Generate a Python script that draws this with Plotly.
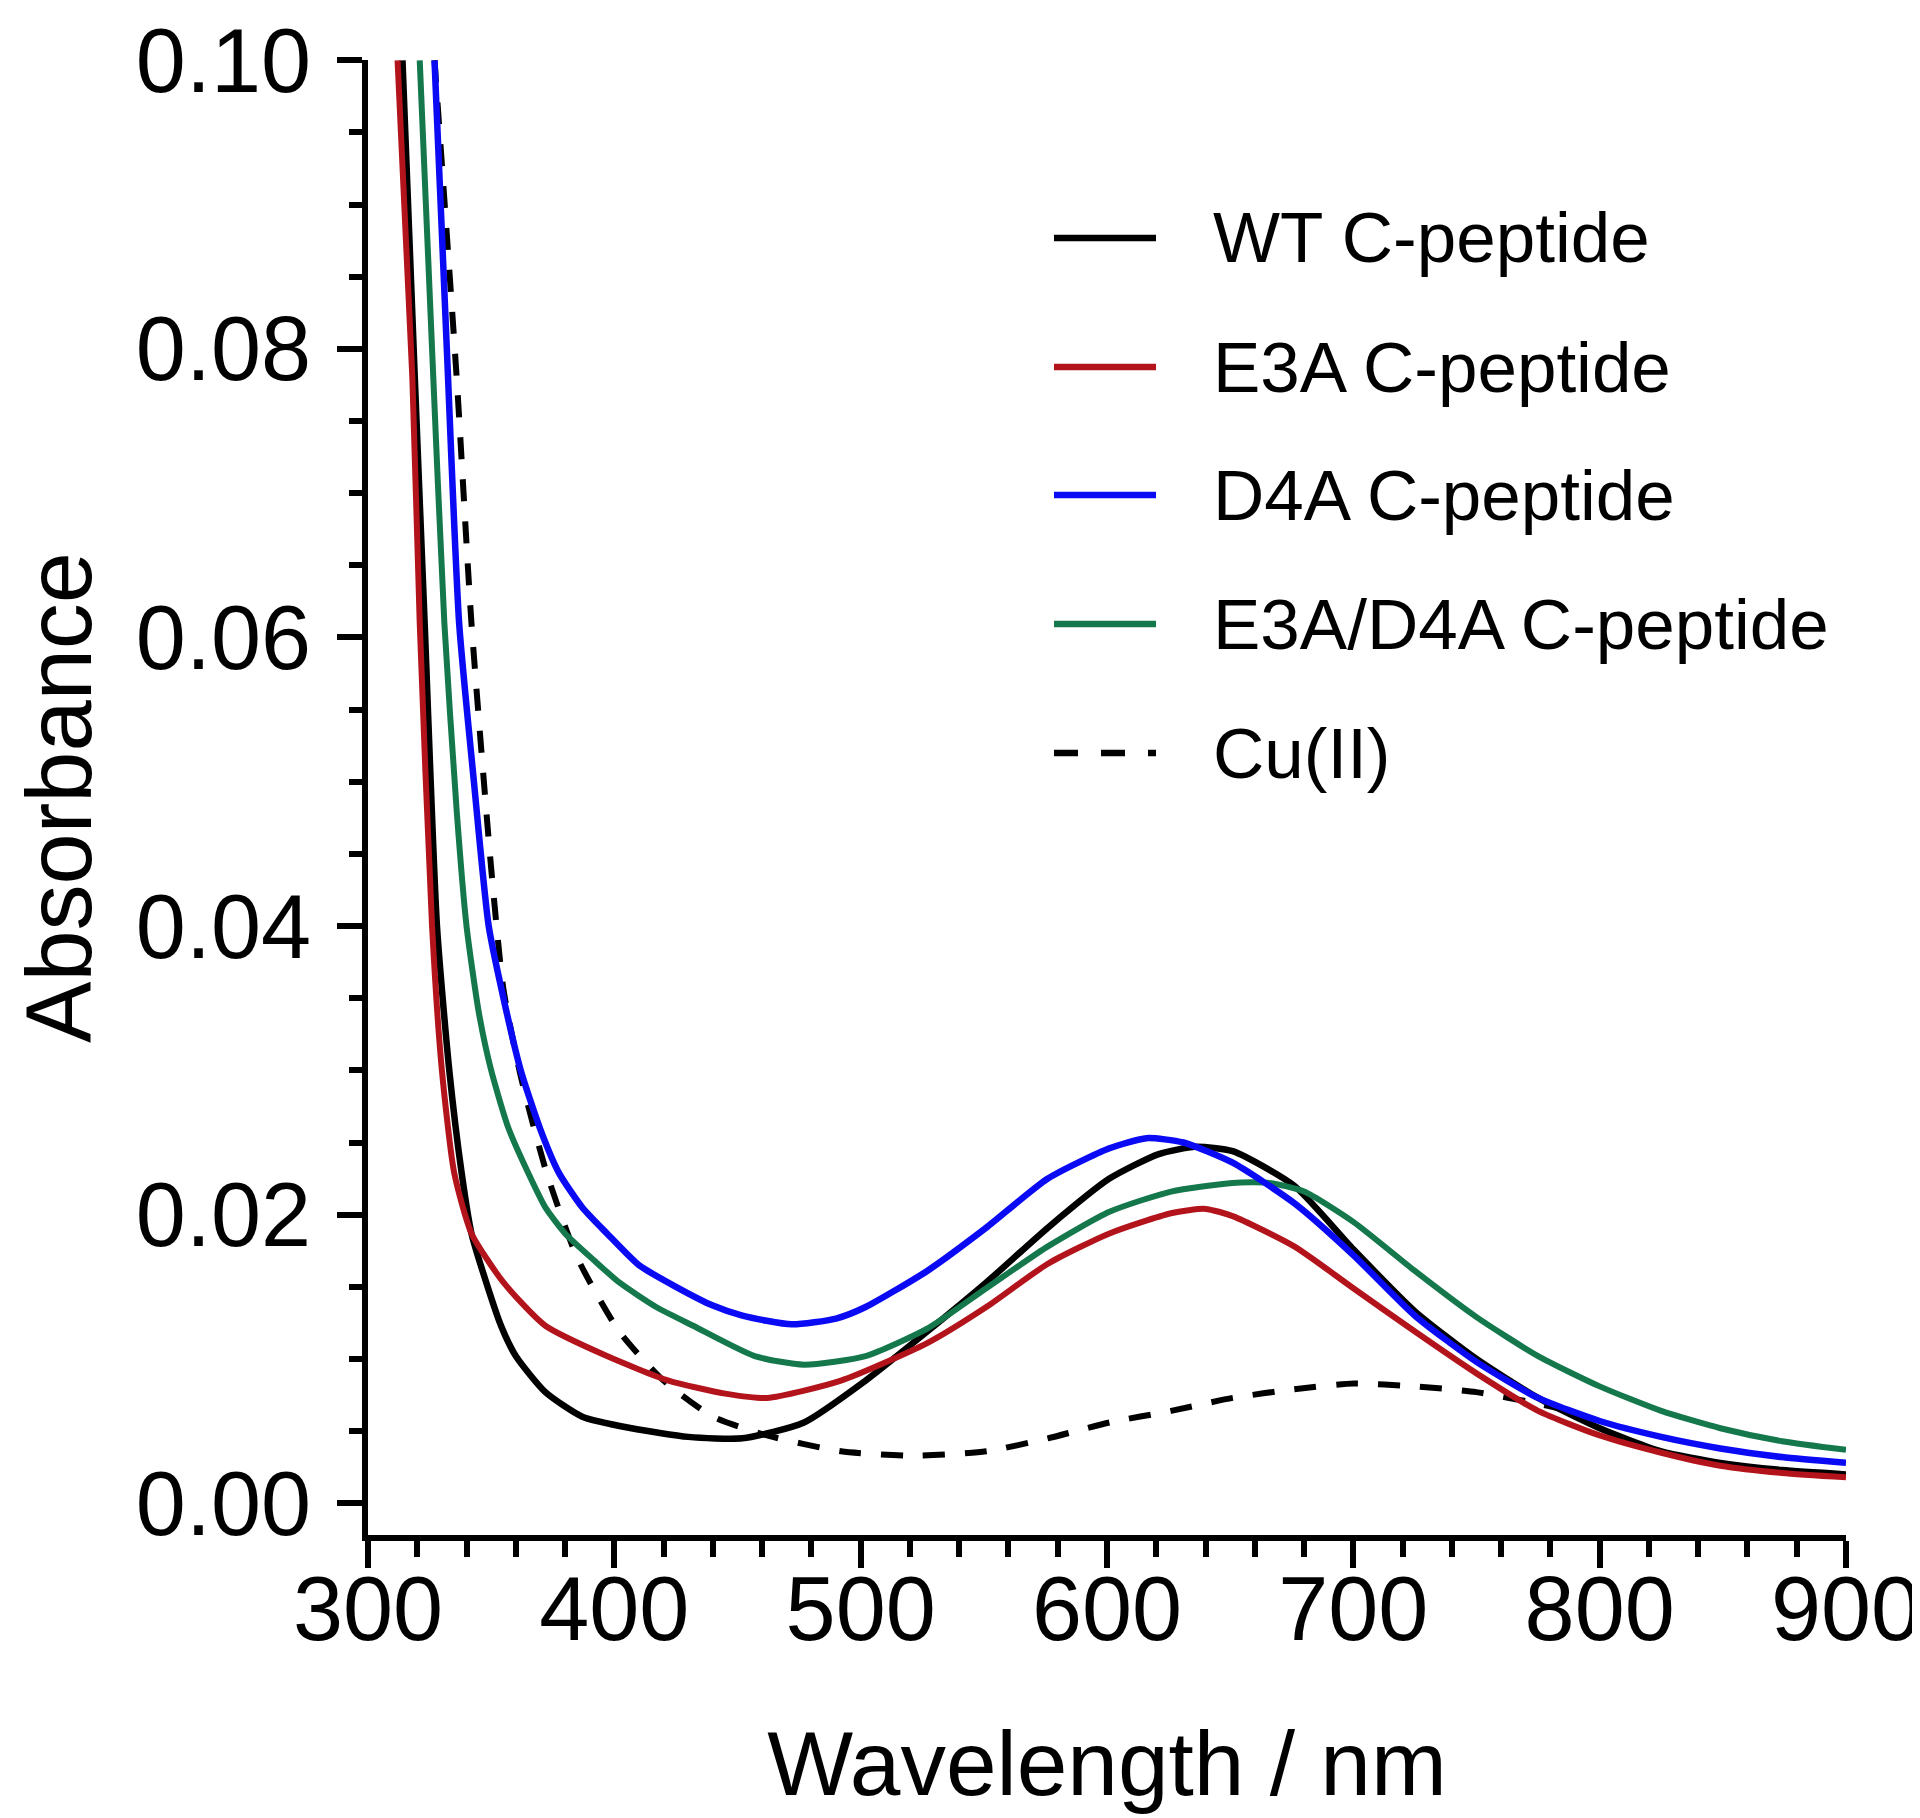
import plotly.graph_objects as go

# ---------------- data ----------------
wt_x = [314, 319, 323, 328, 333, 338, 342, 348, 354, 360, 372, 387, 407, 430, 452, 477,
        502, 527, 551, 576, 601, 621, 636, 651, 676, 700, 725, 750, 775, 800, 825, 849, 874, 900]
wt_y = [0.100, 0.078, 0.061, 0.040, 0.030, 0.0229, 0.0187, 0.0153, 0.0123, 0.0102, 0.0077,
        0.0060, 0.0052, 0.0046, 0.0045, 0.0056, 0.0085, 0.0119, 0.0153, 0.0191, 0.0225,
        0.0242, 0.0247, 0.0244, 0.0220, 0.0176, 0.0133, 0.0100, 0.0073, 0.0052, 0.0036,
        0.0028, 0.0023, 0.0020]

e3a_x = [312, 318, 321, 326, 330, 335, 342, 355, 372, 397, 422, 445, 462, 492, 527, 551,
         576, 601, 626, 640, 651, 676, 700, 725, 750, 775, 800, 825, 849, 874, 900]
e3a_y = [0.100, 0.078, 0.061, 0.040, 0.030, 0.0229, 0.0187, 0.0153, 0.0123, 0.0102, 0.0085,
         0.0076, 0.0073, 0.0085, 0.0111, 0.0136, 0.0166, 0.0187, 0.0201, 0.0204, 0.0199,
         0.0178, 0.0149, 0.0119, 0.0090, 0.0064, 0.0047, 0.0035, 0.0026, 0.0021, 0.0018]

d4a_x = [327, 332, 337, 343, 349, 355, 362, 370, 377.5, 387, 397, 410, 425, 440, 452, 472,
         490, 502, 527, 551, 576, 601, 616, 631, 651, 676, 700, 725, 750, 775, 800, 825,
         849, 874, 900]
d4a_y = [0.100, 0.080, 0.061, 0.050, 0.040, 0.035, 0.030, 0.0259, 0.0229, 0.0205, 0.0187,
         0.0165, 0.0150, 0.0137, 0.0130, 0.0124, 0.0128, 0.0136, 0.0161, 0.0191, 0.0225,
         0.0246, 0.0253, 0.0250, 0.0236, 0.0208, 0.0172, 0.0130, 0.0098, 0.0073, 0.0057,
         0.0046, 0.0038, 0.0032, 0.0028]

dd_x = [321, 326, 331, 336, 340, 345, 350, 357, 365, 372, 380, 392, 402, 417, 432, 457,
        477, 502, 527, 551, 576, 601, 626, 651, 666, 680, 700, 725, 750, 775, 800, 825,
        849, 874, 900]
dd_y = [0.100, 0.080, 0.061, 0.048, 0.040, 0.034, 0.030, 0.0260, 0.0229, 0.0205, 0.0187,
        0.0168, 0.0153, 0.0136, 0.0123, 0.0102, 0.0096, 0.0102, 0.0121, 0.0149, 0.0178,
        0.0202, 0.0216, 0.0222, 0.0222, 0.0216, 0.0195, 0.0161, 0.0129, 0.0102, 0.0081,
        0.0064, 0.0052, 0.0043, 0.0037]

cu_x = [327, 336, 342, 350, 355, 362, 372.5, 385, 402, 420, 440, 462, 492, 521, 551, 576,
        601, 626, 651, 676, 700, 725, 750, 775, 785]
cu_y = [0.100, 0.078, 0.061, 0.044, 0.0356, 0.0296, 0.0229, 0.0170, 0.0119, 0.0085, 0.0060,
        0.0047, 0.0036, 0.0033, 0.0036, 0.0045, 0.0056, 0.0064, 0.0073, 0.0079, 0.0083,
        0.0081, 0.0077, 0.0069, 0.0065]

series_names = ["WT C-peptide", "E3A C-peptide", "D4A C-peptide", "E3A/D4A C-peptide", "Cu(II)"]
x_ticks = [300, 400, 500, 600, 700, 800, 900]
y_ticks = [0.00, 0.02, 0.04, 0.06, 0.08, 0.10]

# ---------------- styling ----------------
W, H = 1920, 1818
L, R, T, B = 360, 82, 52, 291
FONT = "Arial, 'Liberation Sans', Helvetica, sans-serif"
colors = ["#000000", "#B3141C", "#0A0AF5", "#14784C", "#000000"]
widths = [6.5, 6, 6.5, 6, 6]

fig = go.Figure()
xs = [wt_x, e3a_x, d4a_x, dd_x, cu_x]
ys = [wt_y, e3a_y, d4a_y, dd_y, cu_y]
order = [4, 0, 1, 3, 2]
for i in order:
    fig.add_trace(go.Scatter(
        x=xs[i], y=ys[i], mode="lines", name=series_names[i],
        line=dict(color=colors[i], width=widths[i],
                  shape="spline", smoothing=0.6,
                  dash="22px,20px" if i == 4 else "solid"),
        showlegend=False))

axis_common = dict(
    showline=True, linecolor="black", linewidth=6,
    ticks="outside", tickcolor="black", tickwidth=6,
    showgrid=False, zeroline=False, mirror=False,
    automargin=False, ticklabeloverflow="allow",
    tickfont=dict(family=FONT, size=90, color="black"),
)

fig.update_xaxes(
    range=[300, 900], tickvals=x_ticks, ticktext=[str(v) for v in x_ticks],
    ticklen=27, ticklabelstandoff=-36,
    minor=dict(dtick=20, tick0=300, ticklen=16, tickwidth=6, tickcolor="black", ticks="outside", showgrid=False),
    title=dict(text="Wavelength / nm", font=dict(family=FONT, size=91, color="black"), standoff=75),
    **axis_common)

fig.update_yaxes(
    range=[-0.0022, 0.10002], tickvals=y_ticks, ticktext=["%.2f" % v for v in y_ticks],
    ticklen=25, ticklabelstandoff=8,
    minor=dict(dtick=0.005, tick0=0, ticklen=13, tickwidth=6, tickcolor="black", ticks="outside", showgrid=False),
    title=dict(text="Absorbance", font=dict(family=FONT, size=92, color="black"), standoff=52),
    **axis_common)

# ---------------- manual legend ----------------
def px2paper(px, py):
    return (px - L) / (W - L - R), (H - B - py) / (H - T - B)

row_y = [230, 359, 487, 616, 745]
for i, name in enumerate(series_names):
    x0, y0 = px2paper(1046, row_y[i])
    x1, _ = px2paper(1148, row_y[i])
    fig.add_shape(type="line", xref="paper", yref="paper", x0=x0, x1=x1, y0=y0, y1=y0,
                  line=dict(color=colors[i], width=6.5, dash="24px,23px" if i == 4 else "solid"))
    tx, ty = px2paper(1203, row_y[i])
    fig.add_annotation(xref="paper", yref="paper", x=tx, y=ty, text=name, showarrow=False,
                       xanchor="left", yanchor="middle",
                       font=dict(family=FONT, size=71, color="black"))

fig.update_layout(
    width=W, height=H, autosize=False,
    margin=dict(l=L, r=R, t=T, b=B, pad=0),
    paper_bgcolor="white", plot_bgcolor="white",
    showlegend=False,
)

fig.write_html("out.html")
